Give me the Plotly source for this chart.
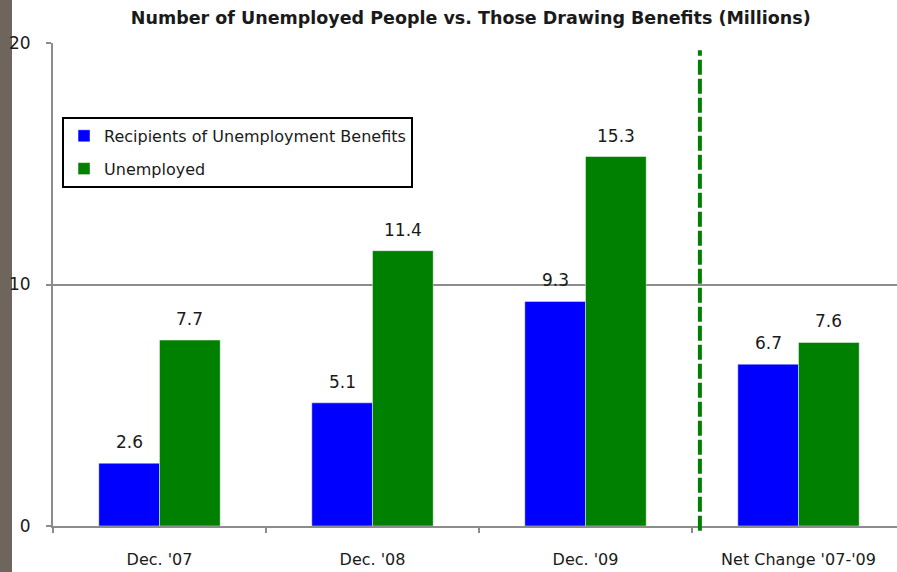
import plotly.graph_objects as go

categories = ["Dec. '07", "Dec. '08", "Dec. '09", "Net Change '07-'09"]
benefit_recipients = [2.6, 5.1, 9.3, 6.7]
unemployed = [7.7, 11.4, 15.3, 7.6]
series_names = ["Recipients of Unemployment Benefits", "Unemployed"]
series_colors = ["#0000FF", "#008000"]
y_ticks = [0, 10, 20]

FONT = "DejaVu Sans"
TEXT = "#1a1a1a"

fig = go.Figure()
for name, vals, col in zip(series_names, [benefit_recipients, unemployed], series_colors):
    fig.add_trace(go.Bar(
        x=categories, y=vals, name=name, legendgroup=name,
        marker=dict(color=col, line=dict(color="rgba(255,255,255,0.45)", width=1)),
        hoverinfo="x+y",
    ))

# value labels above each bar
offsets = [-30, 30]
for vals, dx in zip([benefit_recipients, unemployed], offsets):
    for c, v in zip(categories, vals):
        fig.add_annotation(
            x=c, y=v, text=f"{v:.1f}", showarrow=False,
            xshift=dx, yshift=9, yanchor="bottom",
            font=dict(family=FONT, size=17, color=TEXT),
        )

# separator between the yearly values and the net change
fig.add_shape(
    type="line", xref="x", yref="paper",
    x0=2.537, x1=2.537, y0=-0.01, y1=0.985,
    line=dict(color="#008000", width=4, dash="15px,4px"),
)

# dark strip along the left edge
fig.add_shape(
    type="rect", xref="paper", yref="paper",
    x0=-53 / 844, x1=-41 / 844, y0=-0.1, y1=1.1,
    fillcolor="#6e655c", line=dict(width=0), layer="below",
)

fig.update_layout(
    width=897, height=572,
    margin=dict(l=53, r=0, t=43, b=46),
    paper_bgcolor="white", plot_bgcolor="white",
    barmode="group", bargap=0.43, bargroupgap=0,
    title=dict(
        text="<b>Number of Unemployed People vs. Those Drawing Benefits (Millions)</b>",
        x=0.495, xref="paper", xanchor="center", y=0.968, yanchor="middle",
        font=dict(family=FONT, size=17.5, color=TEXT),
    ),
    showlegend=True,
    legend=dict(
        x=0.0107, y=0.847, xanchor="left", yanchor="top",
        bgcolor="white", bordercolor="#000000", borderwidth=2,
        font=dict(family=FONT, size=16, color=TEXT),
        traceorder="grouped", tracegroupgap=9,
    ),
    font=dict(family=FONT, color=TEXT),
)

fig.update_xaxes(
    range=[-0.5, 3.4624], tickson="boundaries",
    ticks="outside", ticklen=5, tickcolor="#8c8c8c", tickwidth=2,
    showline=True, linecolor="#8c8c8c", linewidth=2,
    showgrid=False, tickfont=dict(family=FONT, size=16, color=TEXT),
    ticklabelstandoff=18,
)
fig.update_yaxes(
    range=[0, 20], tickvals=y_ticks,
    ticks="outside", ticklen=5, tickcolor="#8c8c8c", tickwidth=2,
    showline=True, linecolor="#8c8c8c", linewidth=2,
    showgrid=True, gridcolor="#8c8c8c", gridwidth=2, zeroline=False,
    tickfont=dict(family=FONT, size=17, color=TEXT),
    ticklabelstandoff=12,
)

fig.write_html("out.html")
